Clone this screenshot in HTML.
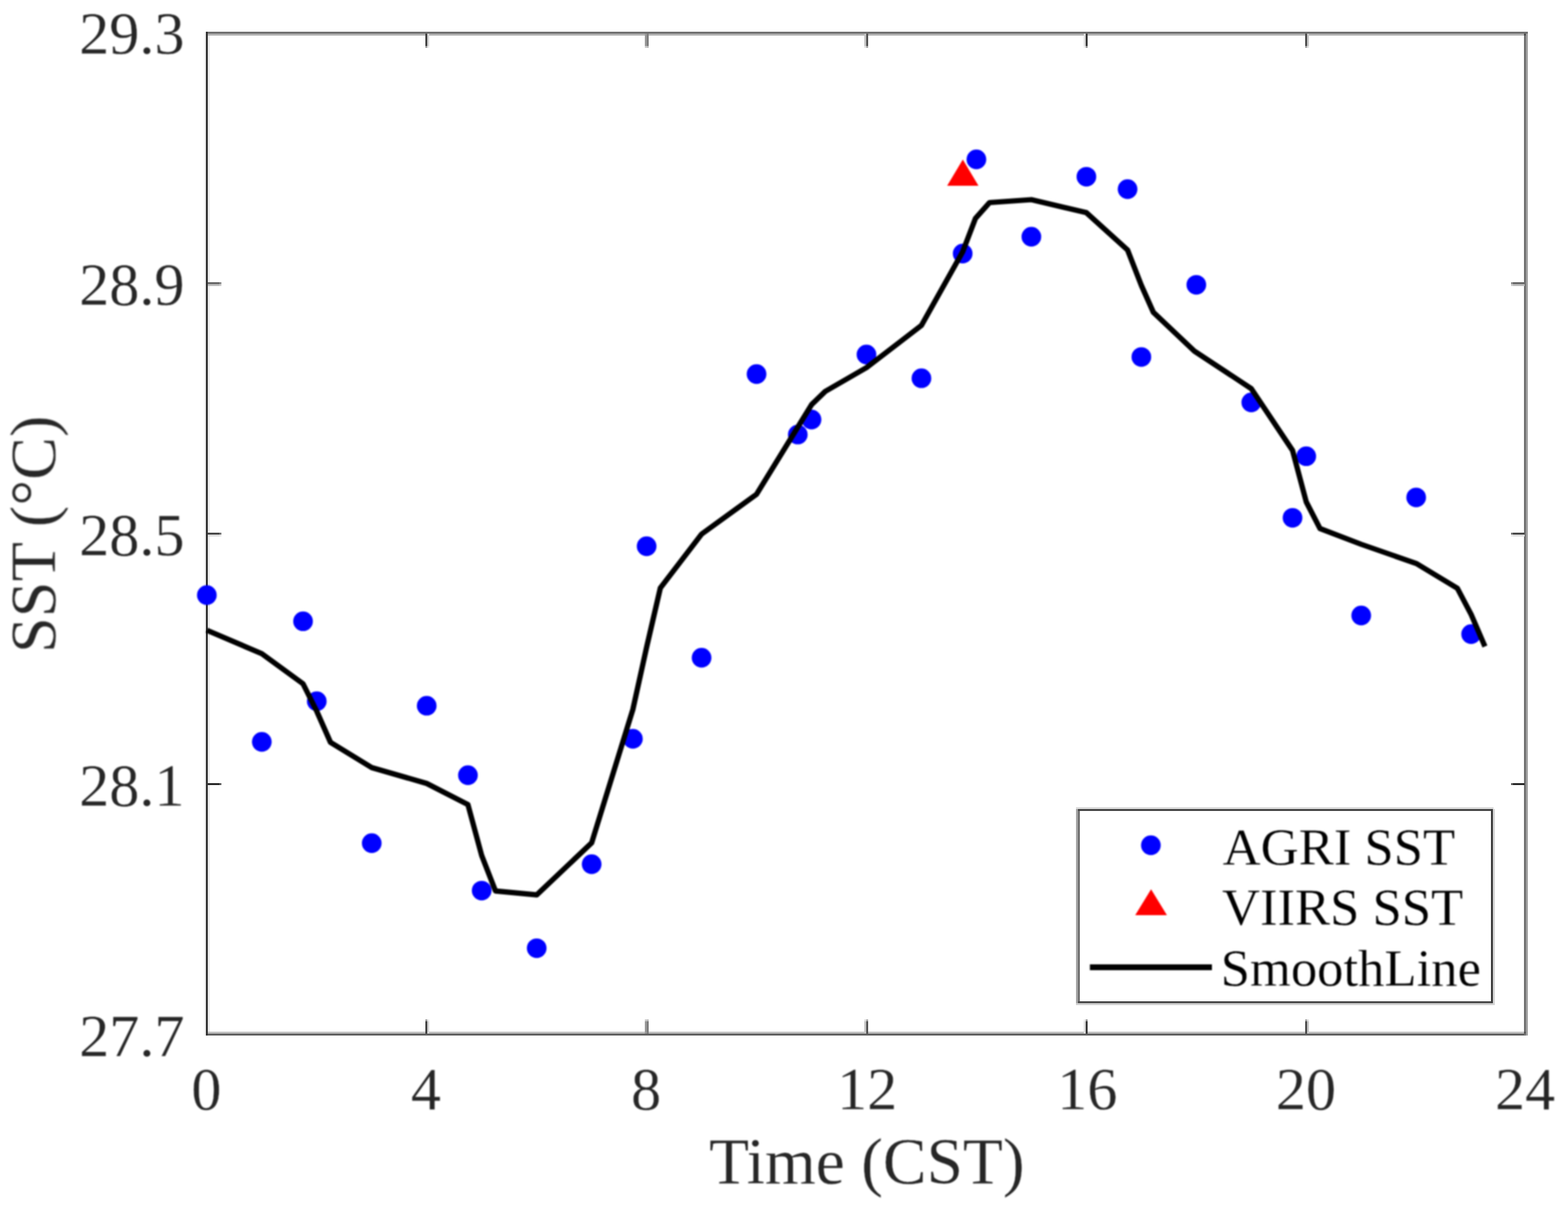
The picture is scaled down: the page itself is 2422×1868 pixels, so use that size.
<!DOCTYPE html>
<html lang="en"><head><meta charset="utf-8"><title>SST diurnal variation</title>
<style>
html,body{margin:0;padding:0;background:#fff;}
body{width:2422px;height:1868px;overflow:hidden;}
svg{display:block;}
text{font-family:"Liberation Serif","Times New Roman",Times,serif;stroke:#fff;stroke-width:0.3px;stroke-linejoin:round;}
.tk{font-size:93px;fill:#262626;}
.lb{font-size:101px;fill:#262626;}
.lg{font-size:81.3px;fill:#000;}
</style></head><body>
<svg width="2422" height="1868" viewBox="0 0 2422 1868" role="img" aria-label="Diurnal variation of sea surface temperature">
<defs><filter id="soft" x="0" y="0" width="2422" height="1868" filterUnits="userSpaceOnUse" color-interpolation-filters="sRGB"><feGaussianBlur stdDeviation="1.2"/></filter></defs>
<rect x="0" y="0" width="2422" height="1868" fill="#fff"/>
<g shape-rendering="crispEdges">
<rect x="315" y="49" width="3" height="1551" fill="#f3f3f3"/>
<rect x="321" y="49" width="3" height="1551" fill="#ebebeb"/>
<rect x="318" y="49" width="2042" height="3" fill="#707070"/>
<rect x="318" y="52" width="2042" height="3" fill="#b0b0b0"/>
<rect x="318" y="1594" width="2042" height="3" fill="#bfbfbf"/>
<rect x="318" y="1597" width="2042" height="3" fill="#606060"/>
<rect x="2354" y="49" width="3" height="1551" fill="#707070"/>
<rect x="2357" y="52" width="3" height="1548" fill="#a0a0a0"/>
<rect x="2354" y="52" width="3" height="3" fill="#4c4c4c"/>
<rect x="2354" y="1594" width="3" height="3" fill="#585858"/>
<rect x="318" y="49" width="3" height="1551" fill="#333333"/>
<rect x="657" y="1575" width="3" height="3" fill="#9d9d9d"/>
<rect x="657" y="1578" width="3" height="19" fill="#414141"/>
<rect x="660" y="1575" width="3" height="3" fill="#eaeaea"/>
<rect x="660" y="1578" width="3" height="19" fill="#d5d5d5"/>
<rect x="657" y="52" width="3" height="19" fill="#414141"/>
<rect x="657" y="71" width="3" height="3" fill="#9d9d9d"/>
<rect x="660" y="52" width="3" height="19" fill="#d5d5d5"/>
<rect x="660" y="71" width="3" height="3" fill="#eaeaea"/>
<rect x="996" y="1575" width="3" height="3" fill="#cacaca"/>
<rect x="996" y="1578" width="3" height="19" fill="#999999"/>
<rect x="999" y="1575" width="3" height="3" fill="#bcbcbc"/>
<rect x="999" y="1578" width="3" height="19" fill="#7d7d7d"/>
<rect x="996" y="52" width="3" height="19" fill="#999999"/>
<rect x="996" y="71" width="3" height="3" fill="#cacaca"/>
<rect x="999" y="52" width="3" height="19" fill="#7d7d7d"/>
<rect x="999" y="71" width="3" height="3" fill="#bcbcbc"/>
<rect x="1335" y="1575" width="3" height="3" fill="#e0e0e0"/>
<rect x="1335" y="1578" width="3" height="19" fill="#c3c3c3"/>
<rect x="1338" y="1575" width="3" height="3" fill="#a7a7a7"/>
<rect x="1338" y="1578" width="3" height="19" fill="#535353"/>
<rect x="1335" y="52" width="3" height="19" fill="#c3c3c3"/>
<rect x="1335" y="71" width="3" height="3" fill="#e0e0e0"/>
<rect x="1338" y="52" width="3" height="19" fill="#535353"/>
<rect x="1338" y="71" width="3" height="3" fill="#a7a7a7"/>
<rect x="1674" y="1575" width="3" height="3" fill="#ededed"/>
<rect x="1674" y="1578" width="3" height="19" fill="#dddddd"/>
<rect x="1677" y="1575" width="3" height="3" fill="#999999"/>
<rect x="1677" y="1578" width="3" height="19" fill="#393939"/>
<rect x="1674" y="52" width="3" height="19" fill="#dddddd"/>
<rect x="1674" y="71" width="3" height="3" fill="#ededed"/>
<rect x="1677" y="52" width="3" height="19" fill="#393939"/>
<rect x="1677" y="71" width="3" height="3" fill="#999999"/>
<rect x="2016" y="1575" width="3" height="3" fill="#a3a3a3"/>
<rect x="2016" y="1578" width="3" height="19" fill="#4d4d4d"/>
<rect x="2019" y="1575" width="3" height="3" fill="#e3e3e3"/>
<rect x="2019" y="1578" width="3" height="19" fill="#c9c9c9"/>
<rect x="2016" y="52" width="3" height="19" fill="#4d4d4d"/>
<rect x="2016" y="71" width="3" height="3" fill="#a3a3a3"/>
<rect x="2019" y="52" width="3" height="19" fill="#c9c9c9"/>
<rect x="2019" y="71" width="3" height="3" fill="#e3e3e3"/>
<rect x="321" y="436" width="18" height="3" fill="#696969"/>
<rect x="339" y="436" width="3" height="3" fill="#8e8e8e"/>
<rect x="321" y="439" width="18" height="3" fill="#bcbcbc"/>
<rect x="339" y="439" width="3" height="3" fill="#cdcdcd"/>
<rect x="2334" y="436" width="3" height="3" fill="#8e8e8e"/>
<rect x="2337" y="436" width="18" height="3" fill="#696969"/>
<rect x="2334" y="439" width="3" height="3" fill="#cdcdcd"/>
<rect x="2337" y="439" width="18" height="3" fill="#bcbcbc"/>
<rect x="321" y="823" width="18" height="3" fill="#474747"/>
<rect x="339" y="823" width="3" height="3" fill="#757575"/>
<rect x="321" y="826" width="18" height="3" fill="#dedede"/>
<rect x="339" y="826" width="3" height="3" fill="#e7e7e7"/>
<rect x="2334" y="823" width="3" height="3" fill="#757575"/>
<rect x="2337" y="823" width="18" height="3" fill="#474747"/>
<rect x="2334" y="826" width="3" height="3" fill="#e7e7e7"/>
<rect x="2337" y="826" width="18" height="3" fill="#dedede"/>
<rect x="321" y="1210" width="18" height="3" fill="#282828"/>
<rect x="339" y="1210" width="3" height="3" fill="#5e5e5e"/>
<rect x="2334" y="1210" width="3" height="3" fill="#5e5e5e"/>
<rect x="2337" y="1210" width="18" height="3" fill="#282828"/>
</g>
<g filter="url(#soft)">
<text class="tk" x="318.7" y="1713.6" text-anchor="middle">0</text>
<text class="tk" x="658.1" y="1713.6" text-anchor="middle">4</text>
<text class="tk" x="998.0" y="1713.6" text-anchor="middle">8</text>
<text class="tk" x="1339.6" y="1713.6" text-anchor="middle">12</text>
<text class="tk" x="1679.5" y="1713.6" text-anchor="middle">16</text>
<text class="tk" x="2017.3" y="1713.6" text-anchor="middle">20</text>
<text class="tk" x="2355.7" y="1713.6" text-anchor="middle">24</text>
<text class="tk" x="285" y="83.4" text-anchor="end">29.3</text>
<text class="tk" x="285" y="470.8" text-anchor="end">28.9</text>
<text class="tk" x="285" y="857.7" text-anchor="end">28.5</text>
<text class="tk" x="285" y="1244.5" text-anchor="end">28.1</text>
<text class="tk" x="285" y="1631.7" text-anchor="end">27.7</text>
<text class="lb" x="1339" y="1829" text-anchor="middle">Time (CST)</text>
<text class="lb" style="font-size:99.5px" transform="translate(84.5,825.5) rotate(-90)" text-anchor="middle">SST (°C)</text>
<g fill="#0000ff">
<circle cx="319.5" cy="919.5" r="15.2"/>
<circle cx="404.4" cy="1146.2" r="15.2"/>
<circle cx="468.1" cy="959.9" r="15.2"/>
<circle cx="489.3" cy="1083.5" r="15.2"/>
<circle cx="574.2" cy="1302.7" r="15.2"/>
<circle cx="659.1" cy="1090.4" r="15.2"/>
<circle cx="722.8" cy="1197.8" r="15.2"/>
<circle cx="744.0" cy="1376.1" r="15.2"/>
<circle cx="829.0" cy="1465.1" r="15.2"/>
<circle cx="913.9" cy="1335.2" r="15.2"/>
<circle cx="977.6" cy="1141.5" r="15.2"/>
<circle cx="998.8" cy="844.0" r="15.2"/>
<circle cx="1083.7" cy="1016.3" r="15.2"/>
<circle cx="1168.6" cy="578.0" r="15.2"/>
<circle cx="1232.3" cy="671.4" r="15.2"/>
<circle cx="1253.5" cy="648.3" r="15.2"/>
<circle cx="1338.4" cy="547.8" r="15.2"/>
<circle cx="1423.3" cy="584.4" r="15.2"/>
<circle cx="1487.0" cy="391.8" r="15.2"/>
<circle cx="1508.2" cy="246.2" r="15.2"/>
<circle cx="1593.1" cy="365.7" r="15.2"/>
<circle cx="1678.1" cy="273.1" r="15.2"/>
<circle cx="1741.7" cy="292.3" r="15.2"/>
<circle cx="1763.0" cy="551.6" r="15.2"/>
<circle cx="1847.9" cy="440.1" r="15.2"/>
<circle cx="1932.8" cy="621.7" r="15.2"/>
<circle cx="1996.5" cy="800.1" r="15.2"/>
<circle cx="2017.7" cy="704.9" r="15.2"/>
<circle cx="2102.6" cy="951.0" r="15.2"/>
<circle cx="2187.5" cy="768.6" r="15.2"/>
<circle cx="2272.4" cy="979.7" r="15.2"/>
</g>
<polygon points="1487.2,246.5 1511.4,287.0 1463.0,287.0" fill="#ff0000"/>
<polyline points="319.5,973.8 404.4,1010.0 468.1,1056.5 489.3,1099.0 510.5,1147.0 574.2,1186.0 659.1,1210.5 722.8,1243.2 744.0,1321.7 765.3,1376.6 829.0,1382.7 913.9,1302.2 977.6,1096.0 998.8,1000.0 1020.0,908.5 1083.7,825.3 1168.6,763.7 1232.3,660.0 1253.5,625.3 1274.7,604.7 1338.4,568.0 1423.3,502.8 1487.0,389.0 1506.7,337.5 1528.5,313.0 1593.1,308.5 1678.1,328.6 1741.7,386.3 1763.0,441.0 1781.5,482.5 1844.9,542.5 1932.8,600.5 1996.5,695.9 2017.7,775.5 2038.9,816.6 2102.6,841.0 2187.5,870.6 2251.2,909.1 2272.4,949.4 2293.7,998.8" fill="none" stroke="#000" stroke-width="8.2" stroke-linejoin="round" stroke-linecap="butt"/>
</g>
<g shape-rendering="crispEdges">
<rect x="1662" y="1247" width="647" height="306" fill="#fff"/>
<rect x="1662" y="1247" width="645" height="3" fill="#dcdcdc"/>
<rect x="1665" y="1250" width="641" height="3" fill="#454545"/>
<rect x="1662" y="1550" width="647" height="3" fill="#d0d0d0"/>
<rect x="1665" y="1547" width="641" height="3" fill="#4a4a4a"/>
<rect x="1662" y="1250" width="3" height="300" fill="#a5a5a5"/>
<rect x="1665" y="1253" width="3" height="294" fill="#707070"/>
<rect x="2303" y="1250" width="3" height="300" fill="#3c3c3c"/>
<rect x="2306" y="1250" width="3" height="303" fill="#d5d5d5"/>
</g>
<g filter="url(#soft)">
<circle cx="1777.7" cy="1306" r="15.2" fill="#0000ff"/>
<polygon points="1778,1374 1802.5,1414 1753.5,1414" fill="#ff0000"/>
<line x1="1683.5" y1="1494.5" x2="1872" y2="1494.5" stroke="#000" stroke-width="8.8"/>
<text class="lg" x="1888.5" y="1336">AGRI SST</text>
<text class="lg" x="1887.5" y="1429">VIIRS SST</text>
<text class="lg" x="1885.5" y="1523.3">SmoothLine</text>
</g>
</svg>
</body></html>
